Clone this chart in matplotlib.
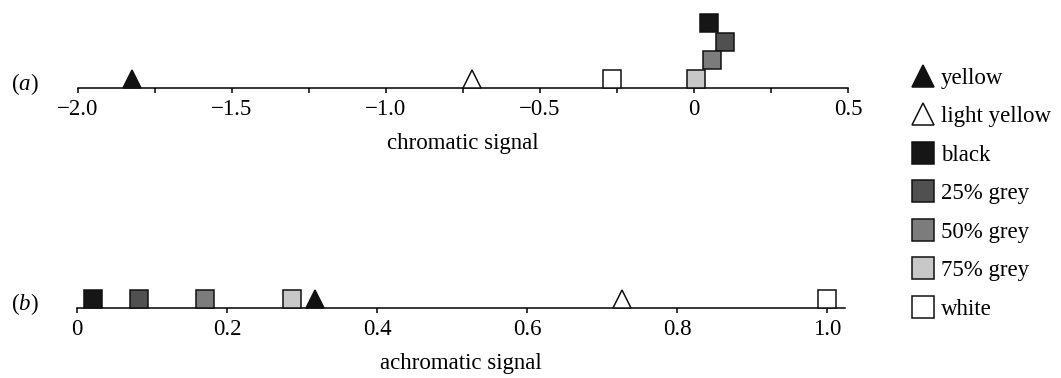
import matplotlib
matplotlib.use("Agg")
import matplotlib.pyplot as plt
from matplotlib.lines import Line2D

plt.rcParams['font.family'] = ['Liberation Serif', 'DejaVu Serif']
plt.rcParams['mathtext.fontset'] = 'custom'
plt.rcParams['mathtext.rm'] = 'Liberation Serif'
plt.rcParams['mathtext.it'] = 'Liberation Serif:italic'

# stimuli and their signals
stimuli = ['yellow', 'light yellow', 'black', '25% grey', '50% grey', '75% grey', 'white']
chromatic = [-1.825, -0.722, 0.05, 0.10, 0.06, 0.006, -0.267]
achromatic = [0.317, 0.727, 0.021, 0.082, 0.171, 0.286, 1.0]

chrom_ticks = [-2.0, -1.5, -1.0, -0.5, 0, 0.5]
chrom_labels = ['\u22122.0', '\u22121.5', '\u22121.0', '\u22120.5', '0', '0.5']
chrom_minor = [-1.75, -1.25, -0.75, -0.25, 0.25]
achrom_ticks = [0, 0.2, 0.4, 0.6, 0.8, 1.0]
achrom_labels = ['0', '0.2', '0.4', '0.6', '0.8', '1.0']

# look of each stimulus
markers = ['^', '^', 's', 's', 's', 's', 's']
faces = ['#111111', 'white', '#161616', '#505050', '#7c7c7c', '#c8c8c8', 'white']

W, H = 1061, 378
fig = plt.figure(figsize=(W / 100, H / 100), dpi=100)
msize = 13.3  # points (~18.5 px)
fs = 16.5


def stack_levels(xs, width):
    # push overlapping squares upward (draw order: white, 75, 50, 25, black)
    order = [6, 5, 4, 3, 2, 0, 1]
    levels = [0] * len(xs)
    placed = []
    for i in order:
        lv = 0
        for j in placed:
            if abs(xs[i] - xs[j]) < width:
                lv = max(lv, levels[j] + 1)
        levels[i] = lv
        placed.append(i)
    return levels


def panel(rect, xs, xlim, ticks, labels, minor, xlabel, tag, axis_y):
    ax = fig.add_axes(rect)
    ax.set_xlim(*xlim)
    ax.set_ylim(0, 4)
    for s in ['top', 'right', 'left']:
        ax.spines[s].set_visible(False)
    ax.spines['bottom'].set_linewidth(1.1)
    ax.set_yticks([])
    ax.set_xticks(ticks)
    ax.set_xticklabels(labels, fontsize=fs)
    if minor:
        ax.set_xticks(minor, minor=True)
    ax.tick_params(axis='x', which='both', direction='out', length=3.6, width=1.1, pad=4.5)
    ax.set_xlabel(xlabel, fontsize=fs, labelpad=9)
    # width of one marker in data units
    px_per_unit = rect[2] * W / (xlim[1] - xlim[0])
    levels = stack_levels(xs, 18.5 / px_per_unit)
    for x, lv, m, fc in zip(xs, levels, markers, faces):
        ax.plot([x], [lv + 0.5], marker=m, markersize=msize, markerfacecolor=fc,
                markeredgecolor='#111111', markeredgewidth=1.1, linestyle='none',
                clip_on=False, zorder=3)
    fig.text(25 / W, 1 - (axis_y + 2) / H, tag, fontsize=fs, ha='center', va='baseline')
    return ax


panel([78 / W, 1 - 88 / H, 770 / W, 74 / H], chromatic, (-2.0, 0.5),
      chrom_ticks, chrom_labels, chrom_minor, 'chromatic signal', r'($\mathit{a}$)', 88)
panel([77 / W, 1 - 308 / H, 768 / W, 74 / H], achromatic, (0.0, 1.024),
      achrom_ticks, achrom_labels, None, 'achromatic signal', r'($\mathit{b}$)', 308)

handles = [Line2D([], [], marker=m, markersize=16, markerfacecolor=fc,
                  markeredgecolor='#111111', markeredgewidth=1.1, linestyle='none')
           for m, fc in zip(markers, faces)]
fig.legend(handles, stimuli, loc='upper left', bbox_to_anchor=(912 / W, 1 - 68 / H),
           frameon=False, fontsize=fs, handlelength=1.0, handletextpad=0.25,
           labelspacing=0.76, borderaxespad=0, borderpad=0)

fig.savefig('out.png', dpi=100)
